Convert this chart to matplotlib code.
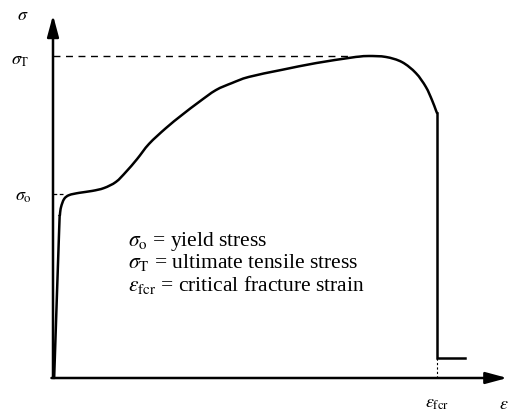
import matplotlib
matplotlib.use("Agg")
import matplotlib.pyplot as plt
import numpy as np
from matplotlib.path import Path
from matplotlib.patches import PathPatch

plt.rcParams["mathtext.fontset"] = "stix"
plt.rcParams["font.family"] = ["Liberation Serif", "DejaVu Serif"]

# Engineering stress-strain curve (strain normalised to fracture strain,
# stress normalised to ultimate tensile stress)
strain = [0.003, 0.016, 0.018, 0.021, 0.029, 0.042, 0.068, 0.102, 0.133,
          0.164, 0.190, 0.219, 0.250, 0.294, 0.336, 0.380, 0.424, 0.466,
          0.510, 0.596, 0.685, 0.771, 0.797, 0.823, 0.867, 0.909, 0.945,
          0.971, 0.987, 0.997, 1.000]
stress = [0.000, 0.460, 0.506, 0.531, 0.556, 0.568, 0.575, 0.581, 0.590,
          0.609, 0.640, 0.680, 0.727, 0.776, 0.817, 0.857, 0.894, 0.916,
          0.935, 0.957, 0.978, 0.994, 0.998, 1.000, 0.997, 0.981, 0.947,
          0.904, 0.863, 0.832, 0.823]

# fracture: sudden drop, then short horizontal tail
drop_strain = [1.000, 1.000, 1.073]
drop_stress = [0.823, 0.062, 0.062]

sigma_o = 0.571      # yield stress
sigma_T = 1.000      # ultimate tensile stress
eps_fcr = 1.000      # critical fracture strain


def smooth_path(xs, ys):
    """Catmull-Rom curve through the points, as cubic Bezier segments."""
    p = np.column_stack([xs, ys]).astype(float)
    ext = np.vstack([2 * p[0] - p[1], p, 2 * p[-1] - p[-2]])
    verts = [tuple(p[0])]
    codes = [Path.MOVETO]
    for i in range(1, len(ext) - 2):
        p0, p1, p2, p3 = ext[i - 1], ext[i], ext[i + 1], ext[i + 2]
        c1 = p1 + (p2 - p0) / 6.0
        c2 = p2 - (p3 - p1) / 6.0
        verts += [tuple(c1), tuple(c2), tuple(p2)]
        codes += [Path.CURVE4] * 3
    return Path(verts, codes)


W, H = 509, 412
fig = plt.figure(figsize=(W / 100, H / 100), dpi=100)
ax = fig.add_axes([0, 0, 1, 1])
ax.set_xlim(-53 / 384, (W - 53) / 384)
ax.set_ylim(-34 / 322, 378 / 322)
ax.axis("off")

# axes with arrow heads
arrow = dict(arrowstyle="-|>,head_length=1.3,head_width=0.35",
             lw=1.8, color="black", shrinkA=0, shrinkB=0)
ax.annotate("", xy=(0, 1.127), xytext=(0, 0), arrowprops=arrow,
            annotation_clip=False)
ax.annotate("", xy=(1.183, 0), xytext=(-0.004, 0), arrowprops=arrow,
            annotation_clip=False)

# the curve
ax.add_patch(PathPatch(smooth_path(strain, stress), facecolor="none",
                       edgecolor="black", lw=1.8, capstyle="round"))
ax.plot(drop_strain, drop_stress, color="black", lw=1.8,
        solid_joinstyle="miter")

# reference dashed lines
ax.plot([0, 0.771], [sigma_T, sigma_T], color="black", lw=1.0,
        dashes=(5, 4))
ax.plot([0, 0.032], [sigma_o, sigma_o], color="black", lw=0.9,
        dashes=(3, 2))
ax.plot([eps_fcr, eps_fcr], [0, 0.062], color="black", lw=0.8,
        dashes=(2, 2))

# axis labels
fs = 13
ax.text(-0.078, 1.127, r"$\sigma$", fontsize=fs, ha="center", va="center")
ax.text(-0.085, 0.985, r"$\sigma_\mathrm{T}$", fontsize=fs, ha="center",
        va="center")
ax.text(-0.078, 0.565, r"$\sigma_\mathrm{o}$", fontsize=fs, ha="center",
        va="center")
ax.text(eps_fcr, -0.080, r"$\varepsilon_\mathrm{fcr}$", fontsize=fs,
        ha="center", va="center")
ax.text(1.162, -0.083, r"$\varepsilon$", fontsize=fs, ha="left",
        va="center")

# definitions
lfs = 15.5
x0 = 75 / 384
ax.text(x0, 0.425, r"$\sigma_\mathrm{o}$ = yield stress", fontsize=lfs,
        ha="left", va="center")
ax.text(x0, 0.358, r"$\sigma_\mathrm{T}$ = ultimate tensile stress",
        fontsize=lfs, ha="left", va="center")
ax.text(x0, 0.290, r"$\varepsilon_\mathrm{fcr}$ = critical fracture strain",
        fontsize=lfs, ha="left", va="center")

fig.savefig("out.png", dpi=100, facecolor="white")
